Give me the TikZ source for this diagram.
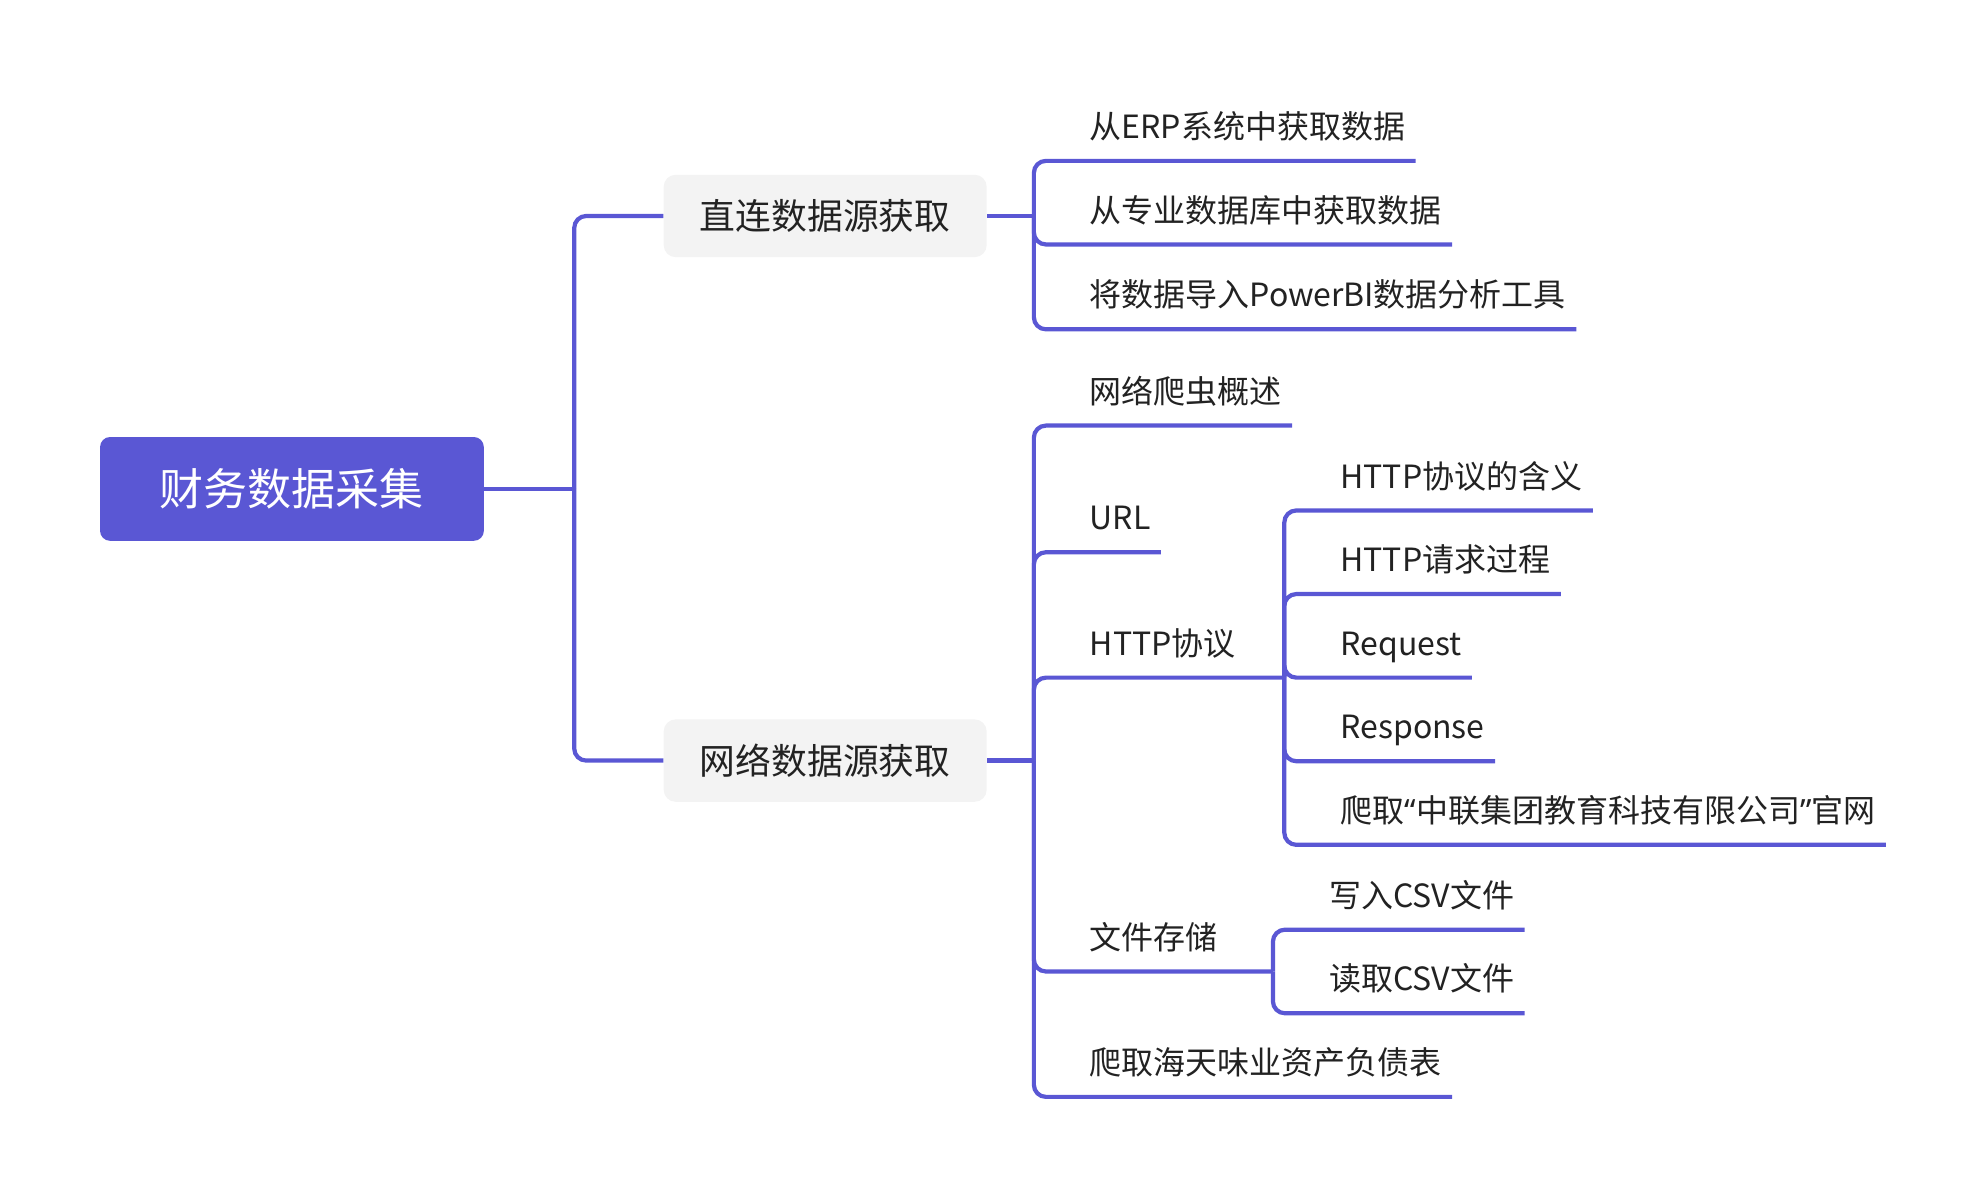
\documentclass[tikz,border=0pt]{standalone}
\usepackage{fontspec}
\newfontfamily\cjk{Noto Sans CJK SC}
\newfontfamily\latn{Noto Sans}
\definecolor{mainc}{HTML}{5A57D4}
\definecolor{boxbg}{HTML}{F3F3F3}
\definecolor{txt}{HTML}{222222}
\begin{document}
\begin{tikzpicture}[x=0.6333pt,y=-0.6333pt,
  conn/.style={draw=mainc,line width=2.1pt,rounded corners=6pt},
  rootbox/.style={fill=mainc,rounded corners=5pt,text=white,font=\cjk\fontsize{22pt}{26pt}\selectfont,minimum width=191.9pt,minimum height=51.9pt,inner sep=0pt},
  branchbox/.style={fill=boxbg,rounded corners=6pt,text=txt,font=\cjk\fontsize{17.9pt}{21pt}\selectfont,minimum width=161.5pt,minimum height=41.2pt,inner sep=0pt},
  leaf/.style={text=txt,font=\cjk\fontsize{16pt}{19pt}\selectfont,anchor=south west,inner xsep=5pt,inner ysep=9pt,text height=14pt,text depth=2pt},
]
\useasboundingbox (0,0) rectangle (1568,947);
% root and branches
\node[rootbox] (root) at (230.5,386) {财务数据采集};
\node[branchbox] (b1) at (651.5,170.5) {直连数据源获取};
\node[branchbox] (b2) at (651.5,600.5) {网络数据源获取};
\coordinate (jr) at ([xshift=45pt]root.east);
\draw[conn] (root.east) -- (jr);
\draw[conn] (jr) |- (b1.west);
\draw[conn] (jr) |- (b2.west);
% group 1
\coordinate (j1) at ([xshift=23.4pt]b1.east);
\draw[conn] (b1.east) -- (j1);
\node[leaf] (a1) at (816,127) {\hspace*{22.9pt}从ERP系统中获取数据};
\node[leaf] (a2) at (816,193) {\hspace*{22.9pt}从专业数据库中获取数据};
\node[leaf] (a3) at (816,260) {\hspace*{22.9pt}将数据导入Power\kern-0.3ptBI数据分析工具};
\foreach \n in {a1,a2,a3} \draw[conn] (j1) |- (\n.south east);
% group 2
\coordinate (j2) at ([xshift=23.4pt]b2.east);
\draw[conn] (b2.east) -- (j2);
\node[leaf] (c1) at (816,336) {\hspace*{22.9pt}网络爬虫概述};
\node[leaf] (c2) at (816,436) {\hspace*{22.9pt}URL};
\node[leaf] (c3) at (816,535) {\hspace*{22.9pt}HTTP协议};
\node[leaf] (c4) at (816,767) {\hspace*{22.9pt}文件存储};
\node[leaf] (c5) at (816,866) {\hspace*{22.9pt}爬取海天味业资产负债表};
\coordinate (j3) at (1014,535);
\coordinate (j4) at (1005,767);
\foreach \n in {c1,c2,c5} \draw[conn] (j2) |- (\n.south east);
\draw[conn] (j2) |- (j3);
\draw[conn] (j2) |- (j4);
% HTTP children
\node[leaf] (h1) at (1014,403) {\hspace*{22.9pt}HTTP协议的含义};
\node[leaf] (h2) at (1014,469) {\hspace*{22.9pt}HTTP请求过程};
\node[leaf] (h3) at (1014,535) {\hspace*{22.9pt}Request};
\node[leaf] (h4) at (1014,601) {\hspace*{22.9pt}Response};
\node[leaf] (h5) at (1014,667) {\hspace*{22.9pt}爬取{\latn“}中联集团教育科技有限公司{\latn”}官网};
\foreach \n in {h1,h2,h3,h4,h5} \draw[conn] (j3) |- (\n.south east);
% file children
\node[leaf] (f1) at (1005,734) {\hspace*{22.9pt}写入CSV文件};
\node[leaf] (f2) at (1005,800) {\hspace*{22.9pt}读取CSV文件};
\foreach \n in {f1,f2} \draw[conn] (j4) |- (\n.south east);
\end{tikzpicture}
\end{document}
